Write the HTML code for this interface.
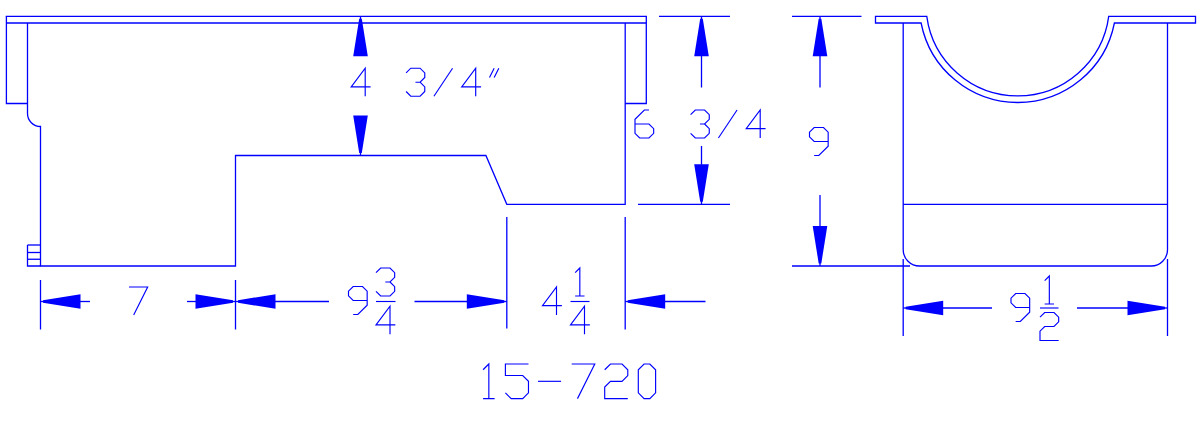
<!DOCTYPE html>
<html><head><meta charset="utf-8"><style>
html,body{margin:0;padding:0;background:#fff;width:1200px;height:424px;overflow:hidden;}
svg{display:block;}
</style></head><body>
<svg width="1200" height="424" viewBox="0 0 1200 424">
<rect width="1200" height="424" fill="#fff"/>
<g fill="none" stroke="#0000ff" stroke-width="1.3" stroke-linecap="butt" stroke-linejoin="miter">
<path d="M5.8,16.35 L646.9,16.35"/>
<path d="M6.4,23 L646.3,23"/>
<path d="M6.4,16.35 L6.4,103.5 L27.5,103.5"/>
<path d="M646.3,16.35 L646.3,103.5 L625.2,103.5"/>
<path d="M27.5,23.0 L27.5,113.5 A13.0,13.0 0 0 0 40.5,126.5 L40.5,266.0"/>
<path d="M39.9,266 L235.5,266 L235.5,155.5 L485.9,155.5 L506.8,204.3 L625.2,204.3 L625.2,23"/>
<path d="M27.5,245 L40.5,245"/>
<path d="M27.5,252.5 L40.5,252.5"/>
<path d="M27.5,259.25 L40.5,259.25"/>
<path d="M27.5,245 L27.5,266 L40.5,266"/>
<path d="M40.5,280 L40.5,329.5"/>
<path d="M235.5,280 L235.5,329.5"/>
<path d="M506.8,217 L506.8,328.5"/>
<path d="M625.2,217 L625.2,329.5"/>
<path d="M40.5,301.5 L44,301.5"/>
<path d="M80,301.5 L90,301.5"/>
<path d="M187,301.5 L196,301.5"/>
<path d="M235.5,301.5 L232,301.5"/>
<path d="M235.5,301.5 L239,301.5"/>
<path d="M275,301.5 L329,301.5"/>
<path d="M414.5,301.5 L467.3,301.5"/>
<path d="M506.8,301.5 L503.3,301.5"/>
<path d="M625.2,301.5 L628.7,301.5"/>
<path d="M664.7,301.5 L705.5,301.5"/>
<path d="M360.5,16.35 L360.5,19.85"/>
<path d="M360.5,155.5 L360.5,152"/>
<path d="M659,16.35 L730,16.35"/>
<path d="M638,204.3 L730,204.3"/>
<path d="M701.5,16.35 L701.5,19.85"/>
<path d="M701.5,55.85 L701.5,87.5"/>
<path d="M701.5,146 L701.5,164.8"/>
<path d="M701.5,204.3 L701.5,200.8"/>
<path d="M792,16.35 L861.5,16.35"/>
<path d="M792,266 L910,266"/>
<path d="M820,16.35 L820,19.85"/>
<path d="M820,55.85 L820,87.5"/>
<path d="M820,195 L820,226.5"/>
<path d="M820,266 L820,262.5"/>
<path d="M875.5,16.35 L926.78,16.35 A91.8,91.8 0 0 0 1108.72,16.35 L1195.5,16.35 L1195.5,23.0 L1114.4,23.0 A98.5,98.5 0 0 1 921.1,23.0 L875.5,23.0 Z"/>
<path d="M903.2,23.0 L903.2,249.7 A16.3,16.3 0 0 0 919.5,266.0 L1151.2,266.0 A16.3,16.3 0 0 0 1167.5,249.7 L1167.5,23.0"/>
<path d="M903.2,204.3 L1167.5,204.3"/>
<path d="M903.2,259 L903.2,336"/>
<path d="M1167.5,259 L1167.5,336"/>
<path d="M903.2,308 L906.7,308"/>
<path d="M942.7,308 L992,308"/>
<path d="M1077,308 L1128,308"/>
<path d="M1167.5,308 L1164,308"/>
</g>
<g fill="none" stroke="#0000ff" stroke-width="1.15" stroke-linecap="butt" stroke-linejoin="miter">
<path d="M365.20,96.20 L365.20,68.20 L351.20,86.87 L370.57,86.87"/>
<path d="M406.10,72.87 L410.77,68.20 L420.10,68.20 L424.77,72.87 L424.77,77.53 L420.10,82.20 L415.43,82.20 M420.10,82.20 L424.77,86.87 L424.77,91.53 L420.10,96.20 L410.77,96.20 L406.10,91.53"/>
<path d="M433.90,96.20 L452.57,68.20"/>
<path d="M475.70,96.20 L475.70,68.20 L461.70,86.87 L481.07,86.87"/>
<path d="M489.50,77.53 L494.17,68.20 M494.17,77.53 L498.83,68.20"/>
<path d="M649.00,110.00 L644.33,110.00 L635.00,119.33 L635.00,133.34 L639.67,138.00 L649.00,138.00 L653.67,133.34 L653.67,128.67 L649.00,124.00 L635.00,124.00"/>
<path d="M690.60,114.67 L695.27,110.00 L704.60,110.00 L709.27,114.67 L709.27,119.33 L704.60,124.00 L699.93,124.00 M704.60,124.00 L709.27,128.67 L709.27,133.34 L704.60,138.00 L695.27,138.00 L690.60,133.34"/>
<path d="M718.40,138.00 L737.07,110.00"/>
<path d="M760.20,138.00 L760.20,110.00 L746.20,128.67 L765.57,128.67"/>
<path d="M814.17,155.50 L818.83,155.50 L828.17,146.17 L828.17,132.17 L823.50,127.50 L814.17,127.50 L809.50,132.17 L809.50,136.83 L814.17,141.50 L828.17,141.50"/>
<path d="M129.00,287.00 L147.67,287.00 L133.67,315.00"/>
<path d="M353.17,314.50 L357.83,314.50 L367.17,305.17 L367.17,291.17 L362.50,286.50 L353.17,286.50 L348.50,291.17 L348.50,295.83 L353.17,300.50 L367.17,300.50"/>
<path d="M376.00,272.67 L380.67,268.00 L390.00,268.00 L394.67,272.67 L394.67,277.33 L390.00,282.00 L385.33,282.00 M390.00,282.00 L394.67,286.67 L394.67,291.33 L390.00,296.00 L380.67,296.00 L376.00,291.33"/>
<path d="M376,301.5 L395.5,301.5"/>
<path d="M390.00,334.20 L390.00,306.20 L376.00,324.87 L395.37,324.87"/>
<path d="M556.50,315.00 L556.50,287.00 L542.50,305.67 L561.87,305.67"/>
<path d="M575.17,272.67 L579.83,268.00 L579.83,296.00 M575.17,296.00 L584.50,296.00"/>
<path d="M570.5,301.5 L589.5,301.5"/>
<path d="M584.50,334.20 L584.50,306.20 L570.50,324.87 L589.87,324.87"/>
<path d="M1015.67,321.50 L1020.33,321.50 L1029.67,312.17 L1029.67,298.17 L1025.00,293.50 L1015.67,293.50 L1011.00,298.17 L1011.00,302.83 L1015.67,307.50 L1029.67,307.50"/>
<path d="M1044.67,280.67 L1049.33,276.00 L1049.33,304.00 M1044.67,304.00 L1054.00,304.00"/>
<path d="M1040,308 L1058.5,308"/>
<path d="M1040.00,317.17 L1044.67,312.50 L1054.00,312.50 L1058.67,317.17 L1058.67,321.83 L1054.00,326.50 L1044.67,326.50 L1040.00,331.17 L1040.00,340.50 L1058.67,340.50"/>
<path d="M483.07,369.77 L488.84,364.00 L488.84,398.62 M483.07,398.62 L494.61,398.62"/>
<path d="M528.48,364.00 L505.40,364.00 L505.40,375.54 L522.71,375.54 L528.48,381.31 L528.48,392.85 L522.71,398.62 L511.17,398.62 L505.40,392.85"/>
<path d="M538.00,381.31 L561.08,381.31"/>
<path d="M571.70,364.00 L594.78,364.00 L577.47,398.62"/>
<path d="M604.70,369.77 L610.47,364.00 L622.01,364.00 L627.78,369.77 L627.78,375.54 L622.01,381.31 L610.47,381.31 L604.70,387.08 L604.70,398.62 L627.78,398.62"/>
<path d="M644.07,364.00 L649.84,364.00 L655.61,369.77 L655.61,392.85 L649.84,398.62 L644.07,398.62 L638.30,392.85 L638.30,369.77 Z"/>
</g>
<g fill="#0000ff" stroke="none">
<polygon points="43,300.2 80.5,294.2 80.5,308.8 43,302.8"/>
<polygon points="233,300.2 195.5,294.2 195.5,308.8 233,302.8"/>
<polygon points="238,300.2 275.5,294.2 275.5,308.8 238,302.8"/>
<polygon points="504.3,300.2 466.8,294.2 466.8,308.8 504.3,302.8"/>
<polygon points="627.7,300.2 665.2,294.2 665.2,308.8 627.7,302.8"/>
<polygon points="359.2,18.85 353.2,56.35 367.8,56.35 361.8,18.85"/>
<polygon points="359.2,153 353.2,115.5 367.8,115.5 361.8,153"/>
<polygon points="700.2,18.85 694.2,56.35 708.8,56.35 702.8,18.85"/>
<polygon points="700.2,201.8 694.2,164.3 708.8,164.3 702.8,201.8"/>
<polygon points="818.7,18.85 812.7,56.35 827.3,56.35 821.3,18.85"/>
<polygon points="818.7,263.5 812.7,226 827.3,226 821.3,263.5"/>
<polygon points="905.7,306.7 943.2,300.7 943.2,315.3 905.7,309.3"/>
<polygon points="1165,306.7 1127.5,300.7 1127.5,315.3 1165,309.3"/>
</g>
</svg>
</body></html>
